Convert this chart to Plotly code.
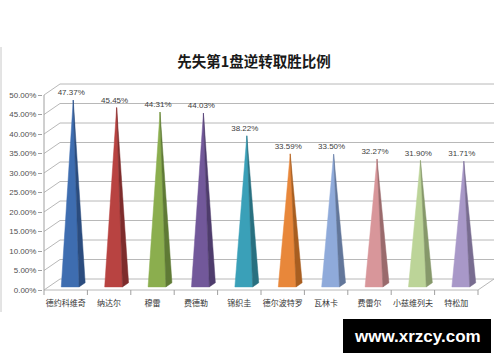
import plotly.graph_objects as go

# ---------------- data ----------------
players = ["德约科维奇", "纳达尔", "穆雷", "费德勒", "锦织圭",
           "德尔波特罗", "瓦林卡", "费雷尔", "小兹维列夫", "特松加"]
rates = [0.4737, 0.4545, 0.4431, 0.4403, 0.3822,
         0.3359, 0.3350, 0.3227, 0.3190, 0.3171]
y_ticks = [0.0, 0.05, 0.10, 0.15, 0.20, 0.25, 0.30, 0.35, 0.40, 0.45, 0.50]
title_text = "先失第1盘逆转取胜比例"
watermark = "www.xrzcy.com"

front_colors = ["#3E6DB0", "#B84341", "#8BAE4E", "#72589A", "#3AA0B8",
                "#E8873A", "#8FAADA", "#D8969A", "#BCD498", "#A898C8"]
side_colors = ["#2B4C7E", "#7E2C2C", "#5F7A35", "#4E3C6C", "#287080",
               "#A85E20", "#62769A", "#9A6A6C", "#86986A", "#786C90"]

# ---------------- geometry (pixel scale of the 3D frame) ----------------
W, H = 500, 362
L, R, T, B = 43, 496, 83, 292          # plot area in pixels
X_FRONT0 = 44                          # pixel of x=-0.5 (front)
Y_ZERO = 290                           # pixel of y=0 (front)
PPX = 43.4                             # px per category
PPY = 390.0                            # px per unit value
DX = 16 / PPX                          # depth offset (x)
DY = 11 / PPY                          # depth offset (y)

x_range = [-0.5 - (X_FRONT0 - L) / PPX, -0.5 + (R - X_FRONT0) / PPX]
y_range = [(Y_ZERO - B) / PPY, (Y_ZERO - T) / PPY]

def px_paper(px, py):
    return (px - L) / (R - L), (B - py) / (B - T)

n = len(players)
grid_col = "#B8B8B8"

fig = go.Figure()

# pyramids
w, z0, z1, zm = 0.205, 0.28, 0.66, 0.47
def P(x, y, z):
    return x + z * DX, y + z * DY

for i, v in enumerate(rates):
    fl = P(i - w, 0, z0)
    fr = P(i + w, 0, z0)
    br = P(i + w, 0, z1)
    ap = P(i, v, zm)
    for pts, col in (([fl, fr, ap, fl], front_colors[i]), ([fr, br, ap, fr], side_colors[i])):
        fig.add_trace(go.Scatter(
            x=[p[0] for p in pts], y=[p[1] for p in pts],
            mode="lines", fill="toself", fillcolor=col,
            line=dict(width=0.5, color=col), hoverinfo="skip", showlegend=False))

# data labels
fig.add_trace(go.Scatter(
    x=[i + 5.5 / PPX for i in range(n)],
    y=[v + 12 / PPY for v in rates],
    mode="text",
    text=[f"{v * 100:.2f}%" for v in rates],
    textposition="middle center",
    textfont=dict(family="Liberation Sans", size=8, color="#404040"),
    hoverinfo="skip", showlegend=False, cliponaxis=False))

shapes = []
xl = -0.5
xr = n - 0.5
# back wall gridlines + left wall obliques
for v in y_ticks:
    shapes.append(dict(type="line", xref="x", yref="y",
                       x0=xl + DX, y0=v + DY, x1=xr + DX, y1=v + DY,
                       line=dict(color=grid_col, width=1), layer="below"))
    shapes.append(dict(type="line", xref="x", yref="y",
                       x0=xl, y0=v, x1=xl + DX, y1=v + DY,
                       line=dict(color=grid_col, width=1), layer="below"))
# floor front edge & right edge
shapes.append(dict(type="line", xref="x", yref="y", x0=xl, y0=0, x1=xr, y1=0,
                   line=dict(color=grid_col, width=1), layer="below"))
shapes.append(dict(type="line", xref="x", yref="y", x0=xr, y0=0, x1=xr + DX, y1=DY,
                   line=dict(color=grid_col, width=1), layer="below"))
# front vertical axis
shapes.append(dict(type="line", xref="x", yref="y", x0=xl, y0=0, x1=xl, y1=y_ticks[-1],
                   line=dict(color="#A0A0A0", width=1)))
# category tick marks below floor front edge
for k in range(n + 1):
    shapes.append(dict(type="line", xref="x", yref="paper",
                       x0=xl + k, x1=xl + k,
                       y0=(B - Y_ZERO) / (B - T), y1=(B - Y_ZERO - 5) / (B - T),
                       line=dict(color="#A0A0A0", width=1)))
# chart border (left)
bx0, by0 = px_paper(1, 47)
bx1, by1 = px_paper(1, 312)
shapes.append(dict(type="line", xref="paper", yref="paper", x0=bx0, y0=by0, x1=bx1, y1=by1,
                   line=dict(color="#C8C8C8", width=1)))
# watermark box
wx0, wy0 = px_paper(343, 319)
wx1, wy1 = px_paper(491, 353)
shapes.append(dict(type="rect", xref="paper", yref="paper", x0=wx0, y0=wy0, x1=wx1, y1=wy1,
                   fillcolor="#000000", line=dict(width=0)))

ax, ay = px_paper(417, 336)
annotations = [dict(xref="paper", yref="paper", x=ax, y=ay, text=f"<b>{watermark}</b>",
                    showarrow=False, xanchor="center", yanchor="middle",
                    font=dict(family="Liberation Sans", size=17, color="#FFFFFF"))]

fig.update_layout(
    width=W, height=H,
    margin=dict(l=L, r=W - R, t=T, b=H - B, pad=0),
    paper_bgcolor="white", plot_bgcolor="white",
    title=dict(text=f"<b>{title_text}</b>", x=254 / W, xref="container", xanchor="center",
               y=1 - 62 / H, yref="container", yanchor="middle",
               font=dict(family="Noto Sans CJK SC", size=14.5, color="#1A1A1A")),
    xaxis=dict(range=x_range, tickvals=list(range(n)), ticktext=players,
               showgrid=False, zeroline=False, showline=False, ticks="",
               tickfont=dict(family="Noto Sans CJK SC", size=8, color="#333333"),
               ticklabelstandoff=5, fixedrange=True),
    yaxis=dict(range=y_range, tickvals=y_ticks, tickformat=".2%",
               showgrid=False, zeroline=False, showline=False,
               ticks="outside", ticklen=4, tickcolor="#A0A0A0",
               tickfont=dict(family="Liberation Sans", size=8, color="#505050"),
               fixedrange=True),
    shapes=shapes, annotations=annotations,
    showlegend=False,
)

fig.write_html("out.html")
